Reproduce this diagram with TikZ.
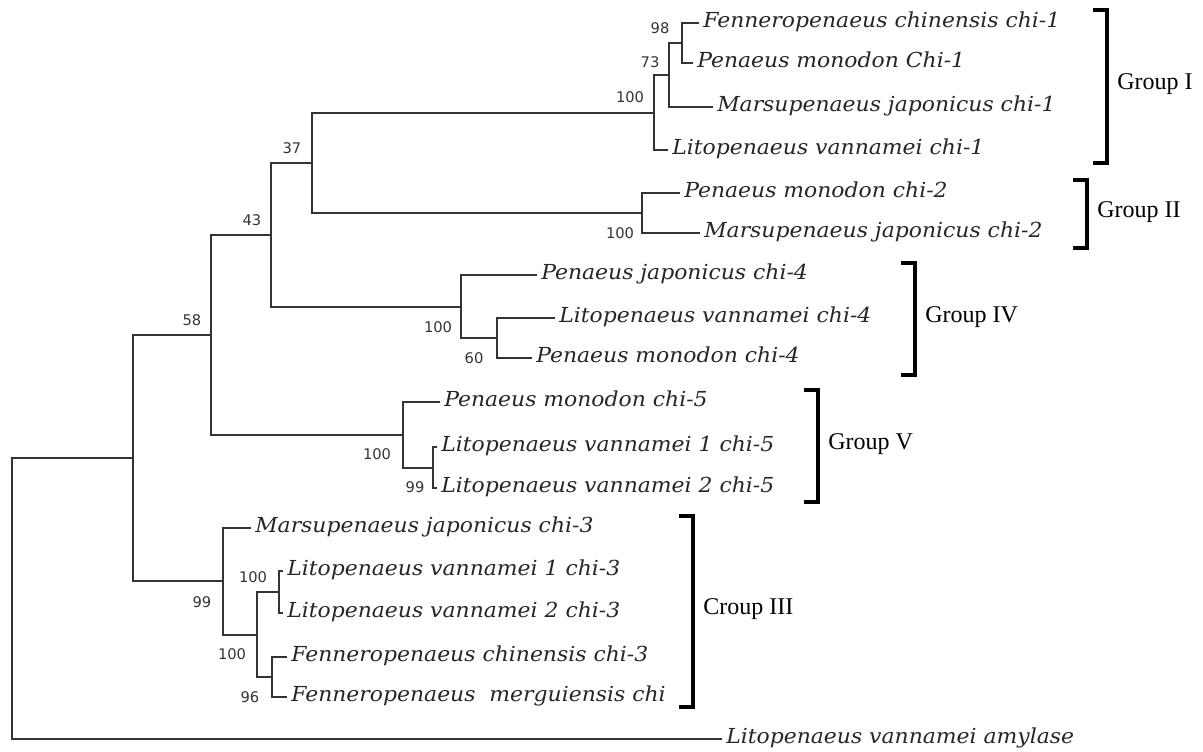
\documentclass[tikz,border=0pt]{standalone}
\usepackage{fontspec}
\usepackage{tikz}
\newfontfamily\leaffont{DejaVu Serif}[FakeStretch=1.06]
\newfontfamily\bootfont{DejaVu Sans}
\newfontfamily\groupfont{Liberation Serif}
\begin{document}
\begin{tikzpicture}[x=0.75pt, y=-0.75pt,
  branch/.style={draw=black!80, line width=1.5pt},
  leaf/.style={anchor=west, inner xsep=3pt, inner ysep=0pt, text=black!85,
               font=\leaffont\itshape\fontsize{15.5}{18}\selectfont,
               text height=11pt, text depth=4pt},
  boot/.style={inner sep=0pt, text=black!80, font=\bootfont\fontsize{11}{13}\selectfont},
  grouplab/.style={anchor=west, inner sep=0pt, font=\groupfont\fontsize{18}{20}\selectfont,
               text height=12pt, text depth=4pt},
  bracket/.style={draw=black, line width=3pt},
]
\useasboundingbox (0,0) rectangle (1203,751);

% leaves
\node[leaf] (fc1)  at (699,23)  {Fenneropenaeus chinensis chi-1};
\node[leaf] (pm1)  at (693,63)  {Penaeus monodon Chi-1};
\node[leaf] (mj1)  at (713,107) {Marsupenaeus japonicus chi-1};
\node[leaf] (lv1)  at (668,150) {Litopenaeus vannamei chi-1};
\node[leaf] (pm2)  at (680,193) {Penaeus monodon chi-2};
\node[leaf] (mj2)  at (700,233) {Marsupenaeus japonicus chi-2};
\node[leaf] (pj4)  at (537,275) {Penaeus japonicus chi-4};
\node[leaf] (lv4)  at (555,318) {Litopenaeus vannamei chi-4};
\node[leaf] (pm4)  at (532,358) {Penaeus monodon chi-4};
\node[leaf] (pm5)  at (440,402) {Penaeus monodon chi-5};
\node[leaf] (lva5) at (437,447) {Litopenaeus vannamei 1 chi-5};
\node[leaf] (lvb5) at (437,488) {Litopenaeus vannamei 2 chi-5};
\node[leaf] (mj3)  at (251,528) {Marsupenaeus japonicus chi-3};
\node[leaf] (lva3) at (283,571) {Litopenaeus vannamei 1 chi-3};
\node[leaf] (lvb3) at (283,613) {Litopenaeus vannamei 2 chi-3};
\node[leaf] (fc3)  at (287,657) {Fenneropenaeus chinensis chi-3};
\node[leaf] (fm)   at (287,697) {Fenneropenaeus\ \ merguiensis chi};
\node[leaf] (amy)  at (722,739) {Litopenaeus vannamei amylase};

% internal nodes
\coordinate (n98)  at (682,43);
\coordinate (n73)  at (669,75);
\coordinate (gI)   at (654,112.5);
\coordinate (gII)  at (642,213);
\coordinate (n37)  at (312,162.75);
\coordinate (n60)  at (497,338);
\coordinate (gIV)  at (461,306.5);
\coordinate (n43)  at (271,234.6);
\coordinate (n99v) at (433,467.5);
\coordinate (gV)   at (403,434.75);
\coordinate (n58)  at (211,334.7);
\coordinate (n100l) at (279,592);
\coordinate (n96)  at (272,677);
\coordinate (n100f) at (257,634.5);
\coordinate (gIII) at (223,581);
\coordinate (nA)   at (133,457.9);
\coordinate (root) at (12,598.5);

% branches
\draw[branch] (fc1.west) -| (n98) |- (pm1.west);
\draw[branch] (n98) -| (n73) |- (mj1.west);
\draw[branch] (n73) -| (gI) |- (lv1.west);
\draw[branch] (pm2.west) -| (gII) |- (mj2.west);
\draw[branch] (gI) -| (n37) |- (gII);
\draw[branch] (lv4.west) -| (n60) |- (pm4.west);
\draw[branch] (pj4.west) -| (gIV) |- (n60);
\draw[branch] (n37) -| (n43) |- (gIV);
\draw[branch] (lva5.west) -| (n99v) |- (lvb5.west);
\draw[branch] (pm5.west) -| (gV) |- (n99v);
\draw[branch] (n43) -| (n58) |- (gV);
\draw[branch] (lva3.west) -| (n100l) |- (lvb3.west);
\draw[branch] (fc3.west) -| (n96) |- (fm.west);
\draw[branch] (n100l) -| (n100f) |- (n96);
\draw[branch] (mj3.west) -| (gIII) |- (n100f);
\draw[branch] (n58) -| (nA) |- (gIII);
\draw[branch] (nA) -| (root) |- (amy.west);

% bootstrap values
\foreach \x/\y/\v [count=\i] in {660/28/98, 650/62/73, 630/97/100, 620/233/100,
    292/148/37, 252/220/43, 438/327/100, 474/358/60, 192/320/58, 377/454/100,
    415/487/99, 202/602/99, 253/577/100, 232/654/100, 250/697/96}
  \node[boot] (bs\i) at (\x,\y) {\v};

% groups
\foreach \x/\t/\b/\lab/\nm in {1107/10/163/Group I/lI, 1087/180/248/Group II/lII,
    915/263/375/Group IV/lIV, 818/390/502/Group V/lV, 693/516/707/Croup III/lIII} {
  \draw[bracket] (\x-14,\t) -- (\x,\t) -- (\x,\b) -- (\x-14,\b);
  \node[grouplab] (\nm) at (\x+10,{(\t+\b)/2-2}) {\lab};
}
\end{tikzpicture}
\end{document}
